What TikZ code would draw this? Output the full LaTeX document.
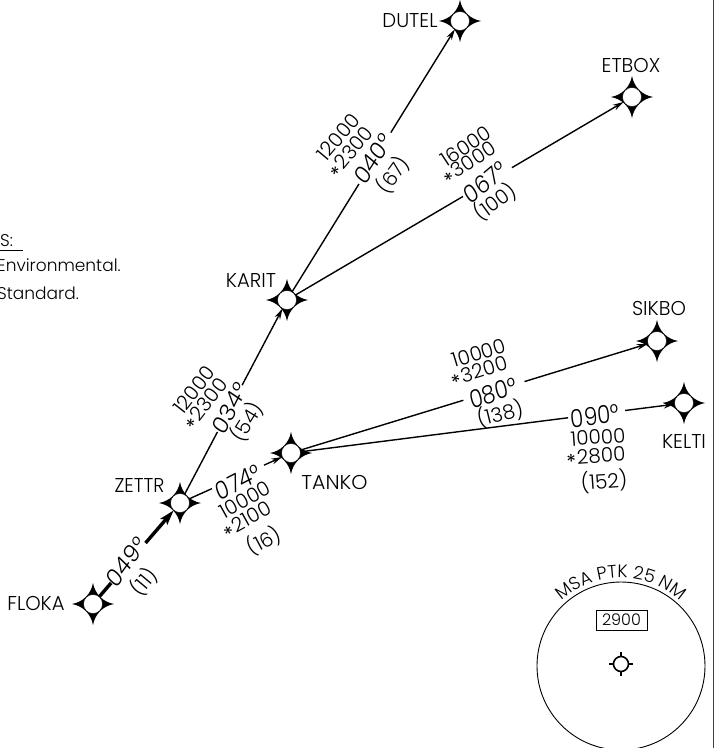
\documentclass[tikz,border=0pt]{standalone}
\usepackage{fontspec}
\setmainfont{Poppins Light}
\newfontfamily\stfont{Poppins}
\usetikzlibrary{arrows.meta,calc,decorations.text}
\tikzset{
  x=1pt,y=-1pt,
  wptnode/.style={circle,draw=black,line width=0.4pt,fill=white,minimum size=19pt,inner sep=0pt},
  wname/.style={font=\fontsize{20}{20}\selectfont,inner sep=0pt,xscale=.98},
  hdg/.style={font=\fontsize{25}{25}\selectfont,inner sep=0pt,xscale=.86},
  alt/.style={font=\fontsize{20}{20}\selectfont,inner sep=0pt},
  note/.style={font=\fontsize{17}{17}\selectfont,inner sep=0pt,anchor=west},
  leg/.style={line width=1.4pt,black},
  legarrow/.style={leg,-{Stealth[length=11pt,width=6pt]}},
  thickleg/.style={line width=3.4pt,black},
  thickarrow/.style={thickleg,-{Stealth[length=15pt,width=9pt,inset=3pt]}}
}
\newcommand{\wpt}[3]{%
  \fill[black,shift={(#2,#3)}] (0,-21) .. controls (2,-10) and (10,-2) .. (21,0)
    .. controls (10,2) and (2,10) .. (0,21)
    .. controls (-2,10) and (-10,2) .. (-21,0)
    .. controls (-10,-2) and (-2,-10) .. (0,-21) -- cycle;
  \node[wptnode] (#1) at (#2,#3) {};
}
\newcommand{\stm}{\raisebox{-.22em}{\stfont\fontsize{20}{20}\selectfont *}\kern.05em}
\begin{document}
\begin{tikzpicture}
\useasboundingbox (0,0) rectangle (714,748);
\wpt{floka}{93}{604}
\wpt{zettr}{180}{503}
\wpt{karit}{287}{300}
\wpt{dutel}{460}{21}
\wpt{etbox}{632}{97}
\wpt{tanko}{291}{453}
\wpt{sikbo}{657}{341}
\wpt{kelti}{684}{403}
% connectors
\draw[thickleg] (floka) -- ($(floka)!.208!(zettr)$);
\draw[thickarrow] ($(floka)!.604!(zettr)$) -- (zettr);
\draw[leg] (zettr) -- ($(zettr)!.35!(karit)$);
\draw[legarrow] ($(zettr)!.58!(karit)$) -- (karit);
\draw[leg] (karit) -- ($(karit)!.416!(dutel)$);
\draw[legarrow] ($(karit)!.6!(dutel)$) -- (dutel);
\draw[leg] (karit) -- ($(karit)!.51!(etbox)$);
\draw[legarrow] ($(karit)!.652!(etbox)$) -- (etbox);
\draw[leg] (zettr) -- ($(zettr)!.288!(tanko)$);
\draw[legarrow] ($(zettr)!.757!(tanko)$) -- (tanko);
\draw[leg] (tanko) -- ($(tanko)!.471!(sikbo)$);
\draw[legarrow] ($(tanko)!.638!(sikbo)$) -- (sikbo);
\draw[leg] (tanko) -- ($(tanko)!.705!(kelti)$);
\draw[legarrow] ($(tanko)!.85!(kelti)$) -- (kelti);
% names
\node[wname] (nfloka) at (36,603) {FLOKA};
\node[wname,xscale=.96] (nzettr) at (139.5,485) {ZETTR};
\node[wname] (nkarit) at (251,281) {KARIT};
\node[wname] (ndutel) at (410,21) {DUTEL};
\node[wname] (netbox) at (631,65) {ETBOX};
\node[wname,xscale=1.05] (ntanko) at (334.5,482) {TANKO};
\node[wname] (nsikbo) at (659,308) {SIKBO};
\node[wname] (nkelti) at (684,441) {KELTI};
% FLOKA-ZETTR
\node[hdg,rotate=50] (a1) at (126,562) {049°};
\node[alt,rotate=50] (a2) at (144,582) {(11)};
% ZETTR-KARIT
\node[alt,rotate=52] (b1) at (194,390) {12000};
\node[alt,rotate=52] (b2) at (207,405) {\stm 2300};
\node[hdg,rotate=60] (b3) at (230,408) {034°};
\node[alt,rotate=58] (b4) at (247,422) {(54)};
% KARIT-DUTEL
\node[alt,rotate=50] (c1) at (338,137) {12000};
\node[alt,rotate=50] (c2) at (352,153) {\stm 2300};
\node[hdg,rotate=54] (c3) at (373,159) {040°};
\node[alt,rotate=54] (c4) at (393,175) {(67)};
% KARIT-ETBOX
\node[alt,rotate=33] (d1) at (466,146) {16000};
\node[alt,rotate=33] (d2) at (470,164) {\stm 3000};
\node[hdg,rotate=36] (d3) at (485,182) {067°};
\node[alt,rotate=36] (d4) at (495,202) {(100)};
% ZETTR-TANKO
\node[hdg,rotate=24] (e1) at (238,482) {074°};
\node[alt,rotate=29] (e2) at (245,500) {10000};
\node[alt,rotate=29] (e3) at (248,521) {\stm 2100};
\node[alt,rotate=28] (e4) at (264,541) {(16)};
% TANKO-SIKBO
\node[alt,rotate=17] (f1) at (479,353) {10000};
\node[alt,rotate=17] (f2) at (480,373) {\stm 3200};
\node[hdg,rotate=17] (f3) at (493,393) {080°};
\node[alt,rotate=14] (f4) at (500,414) {(138)};
% TANKO-KELTI
\node[hdg,rotate=7] (g1) at (595,416) {090°};
\node[alt,rotate=4] (g2) at (598,437) {10000};
\node[alt,rotate=4] (g3) at (596,458) {\stm 2800};
\node[alt,rotate=4] (g4) at (604,481) {(152)};
% notes
\node[note] (h1) at (0,241) {S:};
\draw[line width=0.7pt] (0,250) -- (23,250);
\node[note] (h2) at (-3,265) {Environmental.};
\node[note] (h3) at (-3,293) {Standard.};
% frame edge
\draw[line width=1pt,black!75] (713.4,0) -- (713.4,748);
% MSA
\node[circle,draw=black,line width=0.9pt,minimum size=168pt,inner sep=0pt] (msa) at (621,666) {};
\node[draw=black,line width=0.9pt,minimum width=51pt,minimum height=20pt,inner sep=0pt,font=\fontsize{16}{16}\selectfont] (box) at (621.5,620) {2900};
\node[circle,draw=black,line width=1.6pt,minimum size=15pt,inner sep=0pt] (vor) at (621,664) {};
\draw[line width=1.4pt] (vor.north) -- ++(0,-4);
\draw[line width=1.4pt] (vor.south) -- ++(0,4);
\draw[line width=1.4pt] (vor.west) -- ++(-4,0);
\draw[line width=1.4pt] (vor.east) -- ++(4,0);
\path[decorate,decoration={text along path,text align=center,text={|\fontsize{18}{18}\selectfont|MSA PTK 25 NM}}]
  (549,615.5) .. controls (584,565.5) and (658,565.5) .. (693,615.5);
\end{tikzpicture}
\end{document}
